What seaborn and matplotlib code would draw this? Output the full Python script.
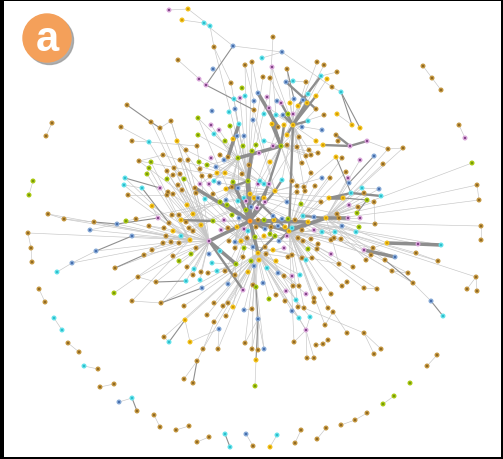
import matplotlib
matplotlib.use("Agg")
import matplotlib.pyplot as plt
import seaborn as sns
import pandas as pd
from matplotlib.collections import LineCollection
from matplotlib.patches import Circle, Rectangle

# ---- nodes (layout position, pixel units) ----
node_x = [
    127, 151, 160, 121, 132, 149, 52, 46, 169, 188,
    182, 204, 210, 233, 282, 273, 214, 262, 178, 272,
    245, 252, 287, 317, 324, 213, 199, 206, 231, 242,
    263, 270, 286, 293, 306, 321, 327, 332, 234, 240,
    245, 258, 254, 254, 267, 269, 277, 281, 290, 294,
    303, 308, 316, 298, 307, 212, 229, 235, 171, 198,
    211, 219, 230, 239, 253, 264, 276, 283, 288, 293,
    272, 278, 284, 293, 302, 308, 316, 322, 324, 198,
    214, 177, 197, 225, 233, 237, 244, 243, 256, 264,
    273, 281, 287, 299, 287, 297, 316, 323, 186, 252,
    309, 318, 337, 341, 423, 432, 441, 459, 465, 337,
    352, 360, 336, 338, 350, 367, 388, 403, 33, 29,
    48, 64, 94, 117, 90, 132, 96, 72, 57, 28,
    31, 32, 39, 45, 125, 124, 142, 160, 128, 167,
    139, 151, 149, 147, 167, 167, 163, 152, 136, 126,
    158, 149, 164, 163, 152, 144, 115, 138, 156, 114,
    132, 161, 54, 62, 68, 79, 84, 98, 100, 114,
    119, 132, 137, 154, 160, 164, 169, 176, 189, 197,
    209, 225, 230, 246, 253, 270, 277, 295, 301, 317,
    326, 255, 256, 258, 264, 252, 258, 245, 244, 252,
    185, 190, 184, 193, 197, 203, 218, 219, 214, 226,
    207, 233, 214, 223, 228, 184, 292, 299, 310, 306,
    296, 298, 304, 314, 294, 316, 323, 328, 325, 333,
    328, 307, 314, 269, 431, 443, 347, 364, 374, 381,
    437, 427, 410, 394, 383, 367, 355, 341, 472, 477,
    479, 481, 481, 476, 467, 477, 336, 342, 360, 374,
    383, 346, 348, 349, 362, 379, 351, 364, 381, 343,
    367, 374, 349, 358, 357, 337, 339, 348, 360, 375,
    342, 359, 356, 335, 334, 341, 387, 418, 441, 373,
    364, 395, 371, 416, 438, 366, 385, 339, 353, 392,
    408, 413, 347, 342, 364, 377, 259, 306, 311, 220,
    228, 238, 211, 249, 270, 302, 180, 188, 199, 207,
    216, 224, 174, 180, 200, 202, 210, 217, 225, 242,
    173, 184, 214, 219, 200, 209, 233, 248, 258, 260,
    264, 269, 282, 292, 311, 322, 330, 297, 304, 315,
    178, 182, 195, 196, 168, 173, 205, 213, 226, 232,
    238, 244, 250, 254, 258, 264, 275, 297, 305, 329,
    220, 226, 238, 246, 227, 246, 251, 257, 265, 287,
    301, 321, 172, 179, 187, 193, 186, 201, 213, 224,
    232, 239, 250, 258, 264, 274, 273, 282, 288, 295,
    303, 308, 314, 326, 181, 169, 173, 189, 193, 181,
    221, 228, 237, 244, 248, 256, 265, 271, 278, 285,
    289, 292, 302, 314, 322, 166, 171, 190, 179, 209,
    229, 235, 241, 247, 255, 264, 270, 275, 287, 279,
    298, 303, 311, 318, 331, 196, 220, 235, 244, 253,
    265, 273, 284, 292, 308, 317, 173, 191, 209, 179,
    187, 258, 266, 243, 251, 259, 276, 288, 302, 312,
    331, 306, 212, 217, 236, 254, 267, 278, 284, 292,
    300, 194, 201, 208, 225, 235, 248, 186, 193, 200,
    202, 228, 243, 253, 256, 263, 286, 293, 299, 306,
    314, 331, 276, 320, 285,
]
node_y = [
    106, 123, 129, 128, 142, 143, 124, 137, 11, 10,
    21, 24, 27, 47, 53, 38, 48, 59, 61, 68,
    66, 63, 70, 63, 66, 70, 80, 86, 84, 89,
    78, 79, 83, 82, 83, 77, 80, 88, 100, 99,
    97, 94, 102, 111, 98, 109, 102, 104, 104, 100,
    101, 95, 97, 107, 104, 112, 113, 110, 122, 119,
    126, 131, 127, 125, 121, 115, 116, 116, 115, 115,
    125, 128, 126, 126, 128, 122, 110, 131, 116, 136,
    135, 142, 147, 142, 140, 137, 137, 147, 146, 142,
    147, 147, 136, 138, 146, 148, 142, 146, 151, 152,
    151, 154, 73, 93, 67, 79, 91, 126, 139, 115,
    126, 129, 136, 142, 147, 142, 150, 149, 182, 196,
    215, 220, 223, 225, 231, 237, 252, 264, 273, 234,
    249, 263, 290, 303, 179, 186, 189, 189, 196, 196,
    162, 163, 169, 175, 172, 180, 156, 207, 220, 222,
    219, 227, 229, 244, 251, 256, 269, 278, 283, 294,
    302, 304, 319, 331, 344, 353, 367, 370, 388, 385,
    403, 399, 412, 416, 428, 338, 343, 431, 427, 443,
    438, 435, 448, 435, 447, 448, 436, 444, 431, 440,
    429, 387, 361, 320, 350, 350, 351, 344, 311, 310,
    321, 343, 380, 384, 362, 350, 350, 330, 323, 317,
    316, 308, 304, 307, 304, 307, 312, 319, 318, 331,
    301, 308, 309, 303, 343, 346, 345, 341, 326, 313,
    309, 359, 359, 300, 302, 317, 334, 334, 355, 350,
    356, 367, 384, 397, 405, 414, 421, 426, 164, 186,
    201, 227, 241, 278, 290, 292, 158, 159, 161, 157,
    165, 173, 179, 184, 189, 190, 194, 194, 197, 199,
    201, 203, 206, 208, 214, 215, 219, 219, 219, 225,
    227, 228, 233, 233, 239, 240, 244, 245, 246, 249,
    251, 258, 256, 254, 262, 261, 261, 265, 268, 272,
    274, 284, 283, 287, 289, 290, 154, 157, 156, 156,
    158, 159, 159, 166, 163, 164, 161, 161, 163, 166,
    168, 161, 169, 175, 170, 177, 177, 174, 174, 175,
    176, 180, 182, 184, 185, 185, 183, 182, 185, 182,
    185, 185, 181, 182, 174, 179, 179, 187, 188, 187,
    186, 191, 189, 194, 193, 195, 200, 195, 190, 188,
    189, 199, 195, 199, 199, 199, 192, 193, 192, 199,
    203, 201, 202, 202, 206, 211, 208, 209, 203, 203,
    205, 203, 216, 216, 206, 215, 223, 226, 222, 221,
    216, 219, 222, 221, 221, 221, 217, 220, 220, 221,
    217, 223, 218, 219, 221, 224, 232, 229, 232, 237,
    231, 229, 228, 230, 232, 228, 230, 228, 227, 228,
    232, 229, 231, 231, 233, 237, 243, 241, 244, 242,
    242, 243, 242, 239, 238, 237, 235, 237, 237, 242,
    239, 242, 240, 245, 241, 249, 252, 249, 249, 248,
    248, 251, 249, 256, 250, 250, 257, 255, 255, 262,
    268, 254, 255, 258, 262, 261, 262, 258, 259, 259,
    255, 261, 264, 272, 265, 267, 269, 274, 277, 277,
    276, 270, 273, 274, 272, 276, 273, 282, 276, 281,
    289, 285, 291, 286, 288, 284, 292, 287, 287, 295,
    299, 295, 296, 290, 302,
]
# B brown, C cyan, L blue, P purple, Y yellow, G yellow-green, O orange
node_grp = (
    "BBBBBCBBPY" "YCCLLBBCBP" "BBBBBLPPBG" "BBLCBCYBCP" "CLLBPPLPYL"
    "LCYYYLCLBG" "PPGCLCCLGP" "YBYYLCBLBG" "CYBGYLLGGC" "PGYBBBYYBG"
    "BBBCBBBBPY" "YYBBPPBBGG" "BBBLLLLLCB" "BBBBCCCPBB" "BGGGBGBYBG"
    "PBBBBBBBBG" "BBCCBBCBBB" "LCBBBBCBBB" "BCCLBYCBBB" "BGYLLBBBLB"
    "YYBBBBBLBB" "BYBBBBLCCP" "CBBBBBBBBB" "BBBGLCBBBB" "BBGGGBBBGB"
    "BBBBBBYBPL" "BBPLCLCBCY" "GBPBGBBPPB" "LGCCBBYPCB" "PLBBBBBBBB"
    "BBBBBBPBBB" "BGPBYBBBGG" "LLBBBBBYYB" "BGCLPPGGPC" "CPCBBLBBBB"
    "BBBBBBCBYB" "LCYYLYYBBY" "GLCPGGLPPL" "GBBBYYBYGP" "GLOBGYLLGB"
    "CYLYYBYBBC" "PBYPCBLBLY" "YCBPCBBYBP" "BLYBGYGGPL" "BBBBBBCBGL"
    "BYPBGBBGLG" "BYBBGYYBBB" "PCCCGLCLBP" "CCBBBBYCBC" "LLPBGLPBBP"
    "BBBBB"
)

# ---- edges ----
hubs = [392, 337, 73, 420, 429, 461, 91, 311, 403, 401, 427, 474, 475,
        366, 431, 358, 449]
hub_neighbors = [
    [338, 358, 362, 370, 376, 386, 389, 395, 397, 399, 410, 412, 415, 418, 430,
     434, 438, 447, 449, 458, 463, 475, 484, 491, 495, 193, 211, 233, 220],
    [16, 20, 21, 28, 30, 38, 39, 42, 44, 57, 60, 83, 85, 87, 98, 311, 318, 326,
     357, 363, 373, 386, 404, 140, 146],
    [19, 22, 23, 31, 34, 45, 47, 48, 49, 50, 66, 67, 69, 74, 77, 78, 90, 92, 93,
     96, 100, 307, 315, 342, 344, 348, 24],
    [344, 346, 349, 367, 368, 369, 380, 381, 400, 402, 422, 424, 442, 444, 454,
     455, 468, 469, 470, 471, 257, 261, 272, 275, 284, 285, 292, 289, 298, 303,
     304, 305, 221, 222, 223, 228, 230, 500, 501, 503, 224],
    [1, 2, 5, 58, 81, 82, 139, 144, 145, 147, 151, 152, 316, 317, 322, 323, 350,
     351, 352, 354, 355, 383, 384, 405, 406, 408, 409, 425, 426, 428, 445, 456,
     457, 459, 460, 481, 482, 487, 488, 489, 155, 157, 158, 161],
    [486, 493, 494, 496, 497, 498, 499, 477, 478, 479, 480, 476, 465, 464, 450,
     451, 452, 467, 200, 205, 206, 208, 209, 210, 212, 213, 214, 215, 216, 217,
     218, 219, 490, 492, 502, 504, 175, 199, 198],
    [306, 307, 308, 314, 339, 340, 341, 343, 347, 76, 94, 95, 97, 101, 89, 72,
     68, 53],
    [59, 61, 62, 79, 80, 84, 86, 319, 320, 327, 328, 332, 334, 335, 336, 359,
     360, 371, 372],
    [258, 260, 262, 263, 264, 265, 267, 270, 271, 273, 278, 279, 281, 282, 286,
     290, 295, 296, 297, 116, 117, 248],
    [287, 288, 293, 294, 299, 300, 301, 291, 253, 251, 250, 249],
    [120, 121, 122, 123, 124, 125, 126, 127, 129, 134, 135, 138, 141, 142, 143,
     149, 150, 154, 156, 159, 160],
    [446, 448, 463, 472, 473, 483, 485, 491, 161],
    [197, 195, 196, 194],
    [309, 313, 321, 329, 333, 345, 347, 379, 382, 407, 148, 153, 43, 64],
    [256, 280, 283, 297, 423, 441, 453, 466, 88, 99, 71, 93],
    [402, 424, 444, 381, 468, 454, 270, 275],
    [316, 322, 350, 354, 384, 140, 59, 81],
]
light_pairs = [
    (3, 5), (4, 5), (6, 7), (8, 9), (9, 12), (10, 11), (11, 12), (12, 16),
    (16, 28), (11, 13), (13, 14), (14, 17), (14, 37), (15, 45), (18, 27),
    (26, 27), (19, 66), (20, 42), (21, 41), (33, 34), (35, 54), (36, 52),
    (37, 103), (102, 35), (104, 105), (105, 106), (107, 108), (109, 110),
    (116, 117), (116, 115), (118, 119), (120, 121), (121, 122), (124, 123),
    (127, 126), (127, 128), (129, 130), (130, 131), (132, 133), (135, 136),
    (138, 139), (155, 154), (154, 153), (162, 163), (164, 165), (166, 167),
    (168, 169), (170, 171), (173, 174), (177, 178), (179, 180), (183, 184),
    (185, 186), (187, 188), (189, 190), (191, 192), (193, 194), (193, 195),
    (193, 196), (193, 197), (198, 199), (200, 201), (201, 207), (202, 204),
    (204, 205), (205, 208), (206, 207), (236, 229), (237, 238), (237, 239),
    (237, 222), (240, 241), (243, 244), (245, 246), (246, 247), (249, 250),
    (251, 252), (253, 254), (253, 255), (301, 234), (293, 294), (299, 300),
    (264, 265), (271, 279), (286, 289), (302, 303), (304, 305), (175, 176),
    (160, 161), (157, 158), (216, 217), (217, 219), (218, 219), (220, 221),
    (224, 219), (225, 226), (226, 227), (228, 229), (231, 232), (231, 219),
    (232, 219), (140, 146), (141, 142), (142, 143), (144, 145), (147, 150),
    (148, 149), (151, 152), (2, 58), (58, 81), (81, 98), (5, 82),
]
dark_pairs = [
    (0, 1), (27, 43), (13, 27), (125, 126), (122, 123), (123, 150), (134, 137),
    (136, 405), (156, 155), (171, 172), (181, 182), (192, 193), (193, 494),
    (200, 176), (203, 204), (234, 235), (103, 110), (103, 111), (256, 266),
    (263, 259), (269, 270), (296, 301), (270, 274), (1, 2), (32, 33), (22, 49),
    (161, 490), (158, 487),
]
heavy_pairs = [
    (41, 71), (54, 73), (52, 73), (75, 73), (70, 91), (63, 310), (91, 311),
    (99, 337), (336, 392), (374, 392), (392, 429), (392, 461), (392, 401),
    (392, 420), (420, 403), (404, 388), (352, 392), (429, 474), (429, 492),
    (421, 403), (286, 287), (287, 288), (290, 291), (369, 269), (403, 277),
    (276, 277), (112, 114), (114, 115), (97, 114), (32, 76), (35, 53),
    (366, 392), (365, 91), (341, 392), (342, 366), (73, 420), (337, 392),
    (363, 420), (412, 392), (395, 392), (439, 420), (437, 461), (416, 392),
    (377, 392), (358, 337), (362, 392), (45, 91), (92, 73), (67, 73), (47, 73),
    (72, 91), (436, 396), (376, 364), (400, 403), (266, 268), (369, 266),
]
heavy_weight = [
    3, 3, 2, 2, 3, 3, 3, 3, 3, 3, 3, 3, 3, 3, 3, 2, 3, 3, 2, 2, 3, 3, 3, 3, 3,
    2, 2, 2, 2, 2, 2, 2, 2, 2, 2, 2, 4, 2, 2, 2, 2, 2, 2, 3, 2, 2, 2, 2, 2, 2,
    2, 2, 2, 2, 2, 2,
]

nodes = pd.DataFrame({"x": node_x, "y": node_y, "grp": list(node_grp)})
rim = {"B": "#c49640", "C": "#62e2ea", "L": "#86a9d6", "P": "#d9a6d9",
       "Y": "#f2c21e", "G": "#a9c812", "O": "#ff9a2a"}
core = {"B": "#8a6420", "C": "#2ab8c8", "L": "#4068a8", "P": "#7a3c80",
        "Y": "#d09800", "G": "#72940a", "O": "#ff7a00"}


def segs(pairs):
    return [[(node_x[a], node_y[a]), (node_x[b], node_y[b])] for a, b in pairs]


thin = [(h, n) for h, nb in zip(hubs, hub_neighbors) for n in nb] + light_pairs

sns.set_style("white")
fig = plt.figure(figsize=(5.03, 4.60), dpi=100)
ax = fig.add_axes([0, 0, 1, 1])

ax.add_collection(LineCollection(segs(thin), colors="#c6c6c6", linewidths=0.45, zorder=1))
ax.add_collection(LineCollection(segs(dark_pairs), colors="#8f8f8f", linewidths=0.8, zorder=2))
ax.add_collection(LineCollection(segs(heavy_pairs), colors="#8e8e8e",
                                 linewidths=[w * 0.85 for w in heavy_weight], zorder=2))

sns.scatterplot(data=nodes, x="x", y="y", hue="grp", palette=rim, s=13,
                linewidth=0, legend=False, ax=ax, zorder=3)
sns.scatterplot(data=nodes, x="x", y="y", hue="grp", palette=core, s=2.6,
                linewidth=0, legend=False, ax=ax, zorder=4)

ax.set_xlim(0, 503)
ax.set_ylim(460, 0)
ax.axis("off")

# badge "a"
ax.add_patch(Circle((49.5, 41.5), 24, color="#9c9c9c", alpha=0.8, zorder=5))
ax.add_patch(Circle((47, 39), 24, color="#f4a05a", zorder=6))
ax.text(47, 40, "a", color="white", fontsize=30, fontweight="bold",
        family="Liberation Sans", ha="center", va="center", zorder=7)

# frame
for r in [(0, 0, 4, 460), (0, 0, 503, 2), (501, 0, 2, 460), (0, 458, 503, 2)]:
    ax.add_patch(Rectangle(r[:2], r[2], r[3], color="black", lw=0, zorder=8))

fig.savefig("out.png", dpi=100)
